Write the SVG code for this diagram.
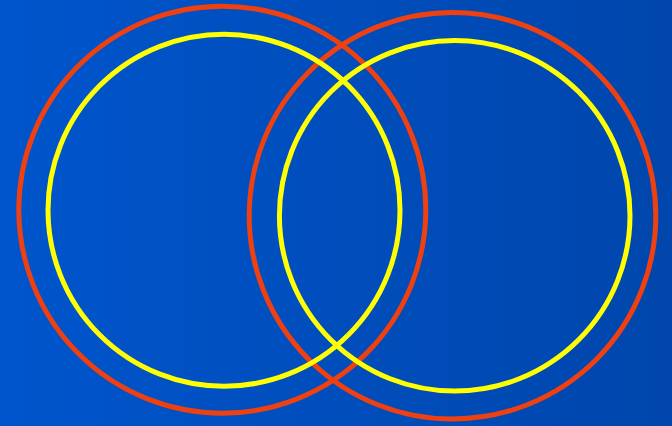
<svg xmlns="http://www.w3.org/2000/svg" width="672" height="426" viewBox="0 0 672 426">
  <defs>
    <linearGradient id="bg" x1="0" y1="0" x2="1" y2="0">
      <stop offset="0" stop-color="#0055cc"/>
      <stop offset="1" stop-color="#0046ac"/>
    </linearGradient>
    <style>
      .red { fill: none; stroke: #ee4010; stroke-width: 5; }
      .yel { fill: none; stroke: #ffff00; stroke-width: 5; }
    </style>
  </defs>
  <rect x="0" y="0" width="672" height="426" fill="url(#bg)"/>
  <g id="left-outer"><circle class="red" cx="222.3" cy="209.7" r="203.5"/></g>
  <g id="right-outer"><circle class="red" cx="452.5" cy="215.7" r="203.3"/></g>
  <g id="left-inner"><circle class="yel" cx="224" cy="210.3" r="176"/></g>
  <g id="right-inner"><circle class="yel" cx="454.7" cy="215.8" r="175.3"/></g>
</svg>
